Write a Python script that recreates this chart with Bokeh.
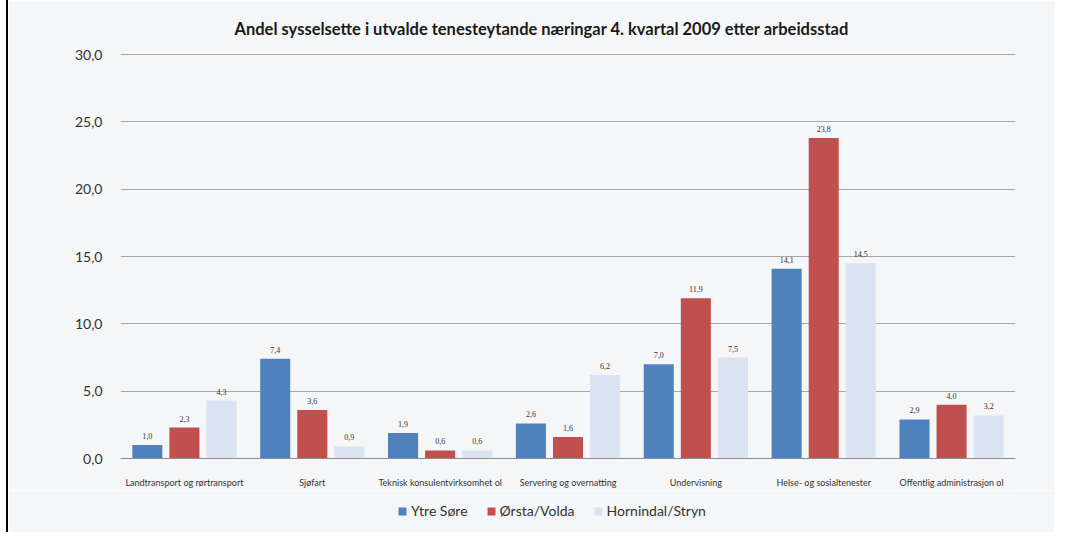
from bokeh.plotting import figure
from bokeh.models import (ColumnDataSource, FactorRange, Range1d, LabelSet, Legend, LegendItem,
                          FixedTicker, CustomJSTickFormatter)
from bokeh.layouts import column
from bokeh.transform import dodge
from bokeh.embed import file_html
from bokeh.resources import INLINE

title = "Andel sysselsette i utvalde tenesteytande næringar 4. kvartal 2009 etter arbeidsstad"
categories = ["Landtransport og rørtransport", "Sjøfart", "Teknisk konsulentvirksomhet ol",
              "Servering og overnatting", "Undervisning", "Helse- og sosialtenester",
              "Offentlig administrasjon ol"]
series_names = ["Ytre Søre", "Ørsta/Volda", "Hornindal/Stryn"]
ytre_sore = [1.0, 7.4, 1.9, 2.6, 7.0, 14.1, 2.9]
orsta_volda = [2.3, 3.6, 0.6, 1.6, 11.9, 23.8, 4.0]
hornindal_stryn = [4.3, 0.9, 0.6, 6.2, 7.5, 14.5, 3.2]
y_ticks = [0, 5, 10, 15, 20, 25, 30]

colors = ["#4F81BD", "#C0504D", "#D9E3F1"]
FONT = "Lato"
BG = "#f5f6f7"
SIDE = {"margin-left": "6px", "border-left": "2px solid #000"}

def fmt(v):
    return f"{v:.1f}".replace(".", ",")

data = dict(cat=categories, s0=ytre_sore, s1=orsta_volda, s2=hornindal_stryn,
            l0=[fmt(v) for v in ytre_sore], l1=[fmt(v) for v in orsta_volda],
            l2=[fmt(v) for v in hornindal_stryn])
src = ColumnDataSource(data)

p = figure(x_range=FactorRange(*categories), y_range=Range1d(0, 30.08),
           width=1048, height=490, output_backend="svg", toolbar_location=None,
           min_border_left=112, min_border_right=41, min_border_top=53, min_border_bottom=31)
p.background_fill_color = BG
p.border_fill_color = BG
p.outline_line_color = None
p.styles = SIDE

p.title.text = title
p.title.align = "left"
p.title.offset = 114
p.title.text_font = FONT
p.title.text_font_size = "16.5px"
p.title.text_font_style = "bold"
p.title.text_color = "#1a1a1a"
p.title.standoff = 29

offsets = [-0.29, 0.0, 0.29]
renderers = []
for i in range(3):
    r = p.vbar(x=dodge("cat", offsets[i], range=p.x_range), top=f"s{i}", width=0.235,
               source=src, fill_color=colors[i], line_color=None)
    renderers.append(r)
    ls = LabelSet(x=dodge("cat", offsets[i], range=p.x_range), y=f"s{i}", text=f"l{i}",
                  source=src, text_align="center", text_baseline="bottom", y_offset=6,
                  text_font=FONT, text_font_size="8px", text_color="#333333")
    p.add_layout(ls)

p.ygrid.grid_line_color = "#a8a8a8"
p.ygrid.grid_line_width = 1.2
p.xgrid.grid_line_color = None
p.yaxis.ticker = FixedTicker(ticks=y_ticks)
p.yaxis.formatter = CustomJSTickFormatter(code="return tick.toFixed(1).replace('.', ',');")
p.yaxis.axis_line_color = None
p.yaxis.major_tick_line_color = None
p.yaxis.minor_tick_line_color = None
p.yaxis.major_label_text_font = FONT
p.yaxis.major_label_text_font_size = "14px"
p.yaxis.major_label_text_color = "#333333"
p.yaxis.major_label_standoff = 12

p.xaxis.axis_line_color = "#8c8c8c"
p.xaxis.axis_line_width = 1.2
p.xaxis.major_tick_line_color = None
p.xaxis.minor_tick_line_color = None
p.xaxis.major_label_text_font = FONT
p.xaxis.major_label_text_font_size = "9px"
p.xaxis.major_label_text_color = "#333333"
p.xaxis.major_label_standoff = 12
p.x_range.range_padding = 0

# legend strip below the chart (proxy glyphs sit outside the visible range)
lg = figure(width=1048, height=42, output_backend="svg", toolbar_location=None,
            x_range=Range1d(0, 1), y_range=Range1d(0, 1),
            x_axis_location=None, y_axis_location=None,
            min_border_left=0, min_border_right=0, min_border_top=0, min_border_bottom=0)
lg.grid.visible = False
lg.background_fill_color = BG
lg.border_fill_color = BG
lg.outline_line_color = None
lg.styles = SIDE
proxy_src = ColumnDataSource(dict(x=[0.5], top=[-5], bottom=[-6]))
proxies = [lg.vbar(x="x", top="top", bottom="bottom", width=0.1, source=proxy_src,
                   fill_color=colors[i], line_color=None)
           for i in range(3)]
legend = Legend(items=[LegendItem(label=series_names[i], renderers=[proxies[i]]) for i in range(3)],
                orientation="horizontal", location=(277, 13), background_fill_alpha=0,
                border_line_color=None, label_text_font=FONT, label_text_font_size="14px",
                label_text_color="#333333", glyph_width=10, glyph_height=10, spacing=18,
                label_standoff=4, padding=4, margin=0)
lg.add_layout(legend)

layout = column(p, lg, spacing=0)
open("out.html", "w").write(file_html(layout, INLINE))
